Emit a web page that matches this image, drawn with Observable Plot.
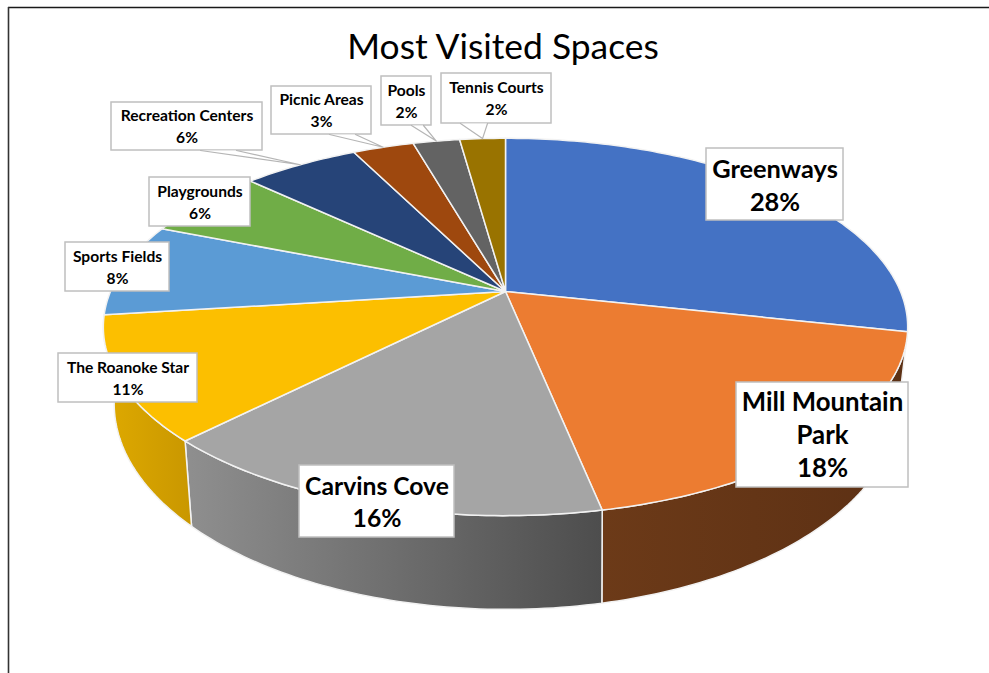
<!DOCTYPE html>
<html>
<head>
<meta charset="utf-8">
<script src="https://cdn.jsdelivr.net/npm/d3@7"></script>
<script src="https://cdn.jsdelivr.net/npm/@observablehq/plot@0.6"></script>
<style>html,body{margin:0;padding:0;background:#fff}svg{display:block}</style>
</head>
<body>
<div id="chart"></div>
<script>
// Data
const categories = ["Greenways","Mill Mountain Park","Carvins Cove","The Roanoke Star","Sports Fields","Playgrounds","Recreation Centers","Picnic Areas","Pools","Tennis Courts"];
const shares = [28.4,18.4,15.6,10.6,8,6,5.6,2.95,2.25,2.2];
const colors = ["#4472C4","#EC7C31","#A5A5A5","#FCBF00","#5B9BD5","#70AD47","#264478","#9E480E","#636363","#997300"];
const labelBreaks = {"Mill Mountain Park":"Mill Mountain\nPark"};

// Visible outer walls: slice name, gradient stops
const wallSlices = ["Mill Mountain Park","Carvins Cove","The Roanoke Star"];
const wallStops = [["#6c3a18","#5c3014"],["#8f8f8f","#4d4d4d"],["#dfaa00","#c99700"]];

// Layout
const W = 989, H = 673;
const topFace = {cx:505, cy:291, rx:395, ry:182, p:.188};
const baseFace = {cx:505.9, cy:362, rx:384.3, ry:197.5, p:.2};
const boxLeft  = [706,736,299,58,65,149,111,271,381,441];
const boxRight = [843,908,454,197,169,250,262,371,431,551];
const boxTop   = [148,382,465,353,242,177,102,86,76,73];
const boxBottom= [220,487,537,402,291,226,150,134,125,123];
const labelSize= [25.4,25.8,24.7,15.6,15.6,15.6,15.6,15.6,15.6,15.6];
const labelShift=[-0.5,-1.5,-1,-1.5,-1.5,-1.5,-1.5,-1.5,-1.5,-1.5];
const leaderSlices = ["Recreation Centers","Picnic Areas","Pools","Tennis Courts"];
const leaderFootA = [200,329,411,460];
const leaderFootB = [236,355,423,487];

// Geometry from values
const total = d3.sum(shares);
const cum = d3.cumsum(shares);
const slices = categories.map((name,i)=>({
  name,
  a0:(i?cum[i-1]:0)/total*2*Math.PI,
  a1:cum[i]/total*2*Math.PI,
  pct:Math.round(shares[i]/total*100)
}));
const project = (f,a)=>{
  const u=Math.sin(a), v=Math.cos(a), w=1+f.p*v;
  return {x:f.cx+f.rx*u/w, y:f.cy-f.ry*v/w};
};
const arc = (f,a0,a1)=>{
  const n=Math.max(2,Math.ceil((a1-a0)/(Math.PI/180)));
  return d3.range(n+1).map(i=>project(f,a0+(a1-a0)*i/n));
};
const topPolys = slices.flatMap(s=>{
  const c={x:topFace.cx,y:topFace.cy};
  return [c,...arc(topFace,s.a0,s.a1),c].map(p=>({...p,name:s.name}));
});
const wallPoly = (name)=>{
  const s=slices.find(d=>d.name===name);
  const t=arc(topFace,s.a0,s.a1), b=arc(baseFace,s.a0,s.a1).reverse();
  return [...t,...b,t[0]];
};
const byName = name=>slices.find(d=>d.name===name);
const leaders = leaderSlices.flatMap((name,i)=>{
  const s=byName(name);
  const by=boxBottom[categories.indexOf(name)];
  const tip=project(topFace,(s.a0+s.a1)/2);
  return [{x:leaderFootA[i],y:by},tip,{x:leaderFootB[i],y:by}].map(p=>({...p,name}));
});
const labels = slices.map((s,i)=>({
  text:(labelBreaks[s.name]||s.name)+"\n"+s.pct+"%",
  x:(boxLeft[i]+boxRight[i])/2,
  y:(boxTop[i]+boxBottom[i])/2+labelShift[i],
  x1:boxLeft[i],x2:boxRight[i],y1:boxTop[i],y2:boxBottom[i],
  size:labelSize[i]
}));
const bigLabels = labels.filter(d=>d.size>20), smallLabels = labels.filter(d=>d.size<=20);

const gradients = ()=>{
  const defs=d3.create("svg:defs");
  wallStops.forEach((st,i)=>{
    const g=defs.append("linearGradient").attr("id","wall"+i).attr("x1",0).attr("x2",1).attr("y1",0).attr("y2",0);
    g.append("stop").attr("offset","0").attr("stop-color",st[0]);
    g.append("stop").attr("offset","1").attr("stop-color",st[1]);
  });
  return defs.node();
};

const chart = Plot.plot({
  width:W, height:H, margin:0,
  style:{background:"#fff",fontFamily:"Lato, sans-serif",color:"#000"},
  x:{domain:[0,W],range:[0,W],axis:null},
  y:{domain:[0,H],range:[0,H],axis:null},
  color:{domain:categories,range:colors},
  marks:[
    gradients,
    Plot.ruleY([7],{x1:8,x2:W,stroke:"#1a1a1a",strokeWidth:1.6}),
    Plot.ruleX([8],{y1:7,y2:H,stroke:"#333",strokeWidth:1.6}),
    ...wallSlices.map((name,i)=>Plot.line(wallPoly(name),{x:"x",y:"y",fill:`url(#wall${i})`,stroke:"#f2f2f2",strokeWidth:1.5,strokeLinejoin:"round"})),
    Plot.line(topPolys,{x:"x",y:"y",z:"name",fill:"name",stroke:"#f2f2f2",strokeWidth:1.5,strokeLinejoin:"round"}),
    Plot.rect(labels,{x1:"x1",x2:"x2",y1:"y1",y2:"y2",fill:"#fff",stroke:"#bfbfbf",strokeWidth:1.5}),
    Plot.line(leaders,{x:"x",y:"y",z:"name",fill:"#fff",stroke:"#b5b5b5",strokeWidth:1.2}),
    Plot.text(bigLabels,{x:"x",y:"y",text:"text",fontSize:d=>d.size,fontWeight:700,lineHeight:1.29,fill:"#000"}),
    Plot.text(smallLabels,{x:"x",y:"y",text:"text",fontSize:d=>d.size,fontWeight:700,lineHeight:1.42,fill:"#000"}),
    Plot.text(["Most Visited Spaces"],{x:()=>502.5,y:()=>47,text:d=>d,fontSize:35.4,fill:"#000"})
  ]
});
document.getElementById("chart").append(chart);
</script>
</body>
</html>
